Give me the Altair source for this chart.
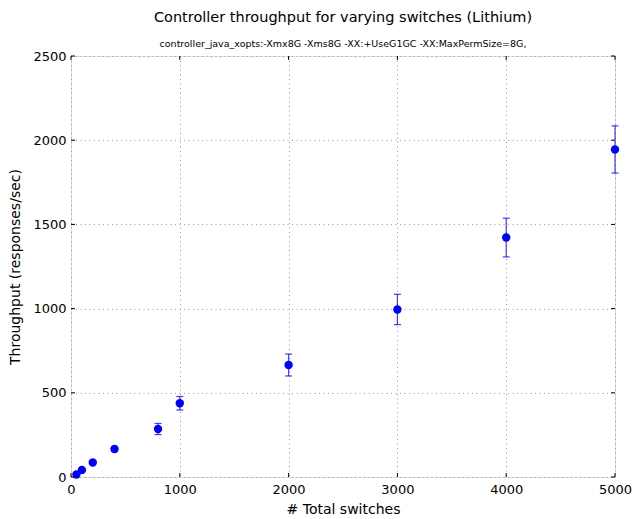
import altair as alt
import pandas as pd

switches = [50, 100, 200, 400, 800, 1000, 2000, 3000, 4000, 5000]
throughput = [15, 42, 86, 166, 285, 438, 665, 995, 1422, 1945]
error = [4, 5, 8, 14, 33, 40, 65, 90, 115, 140]
x_ticks = [0, 1000, 2000, 3000, 4000, 5000]
y_ticks = [0, 500, 1000, 1500, 2000, 2500]

df = pd.DataFrame({"x": switches, "y": throughput, "e": error})
df["lo"] = df["y"] - df["e"]
df["hi"] = df["y"] + df["e"]
xt = pd.DataFrame({"t": x_ticks})
yt = pd.DataFrame({"t": y_ticks})

FONT = "DejaVu Sans"
W, H = 544, 421
x_scale = alt.Scale(domain=[0, 5000], nice=False)
y_scale = alt.Scale(domain=[0, 2500], nice=False)

base = alt.Chart(df)

x_enc = alt.X("x:Q", scale=x_scale, title="# Total switches",
              axis=alt.Axis(values=x_ticks, format="d",
                            grid=True, gridDash=[1, 3.5], gridColor="#999999", gridOpacity=1,
                            ticks=False, domain=False, labelPadding=6,
                            labelFontSize=13, labelColor="black", labelFont=FONT,
                            titleFontSize=14, titleFont=FONT, titleFontWeight="normal",
                            titleColor="black", titlePadding=6, labelFlush=False))
y_enc = alt.Y("y:Q", scale=y_scale, title="Throughput (responses/sec)",
              axis=alt.Axis(values=y_ticks, format="d",
                            grid=True, gridDash=[1, 3.5], gridColor="#999999", gridOpacity=1,
                            ticks=False, domain=False, labelPadding=5,
                            labelFontSize=13, labelColor="black", labelFont=FONT,
                            titleFontSize=14, titleFont=FONT, titleFontWeight="normal",
                            titleColor="black", titlePadding=10, labelFlush=False))

bars = base.mark_rule(color="#0000ff", opacity=0.75, strokeWidth=1.2).encode(
    x=x_enc, y=alt.Y("lo:Q", scale=y_scale), y2="hi:Q")
caps_hi = base.mark_tick(color="#0000ff", opacity=0.75, size=7, thickness=1.2, orient="horizontal").encode(
    x="x:Q", y=alt.Y("hi:Q", scale=y_scale))
caps_lo = base.mark_tick(color="#0000ff", opacity=0.75, size=7, thickness=1.2, orient="horizontal").encode(
    x="x:Q", y=alt.Y("lo:Q", scale=y_scale))
pts = base.mark_circle(color="#0000ff", opacity=1, size=70).encode(x="x:Q", y=y_enc)

TL = 4
tick_style = dict(color="black", strokeWidth=1)
xt_top = alt.Chart(xt).mark_rule(**tick_style).encode(
    x=alt.X("t:Q", scale=x_scale), y=alt.value(0), y2=alt.value(TL))
xt_bot = alt.Chart(xt).mark_rule(**tick_style).encode(
    x=alt.X("t:Q", scale=x_scale), y=alt.value(H), y2=alt.value(H - TL))
yt_left = alt.Chart(yt).mark_rule(**tick_style).encode(
    y=alt.Y("t:Q", scale=y_scale), x=alt.value(0), x2=alt.value(TL))
yt_right = alt.Chart(yt).mark_rule(**tick_style).encode(
    y=alt.Y("t:Q", scale=y_scale), x=alt.value(W), x2=alt.value(W - TL))

chart = alt.layer(bars, caps_hi, caps_lo, pts, xt_top, xt_bot, yt_left, yt_right).properties(
    width=W, height=H,
    autosize="none",
    padding={"left": 71, "top": 56, "right": 20, "bottom": 42},
    title=alt.TitleParams(
        text="Controller throughput for varying switches (Lithium)",
        subtitle="controller_java_xopts:-Xmx8G -Xms8G -XX:+UseG1GC -XX:MaxPermSize=8G,",
        font=FONT, fontSize=14.5, fontWeight="normal", color="black",
        subtitleFont=FONT, subtitleFontSize=9.5, subtitleColor="black",
        subtitlePadding=13, offset=1, anchor="middle"),
).configure_view(stroke="black", strokeWidth=1.2).configure(background="white")

chart.save("out.html", embed_options={"renderer": "svg", "actions": False})
